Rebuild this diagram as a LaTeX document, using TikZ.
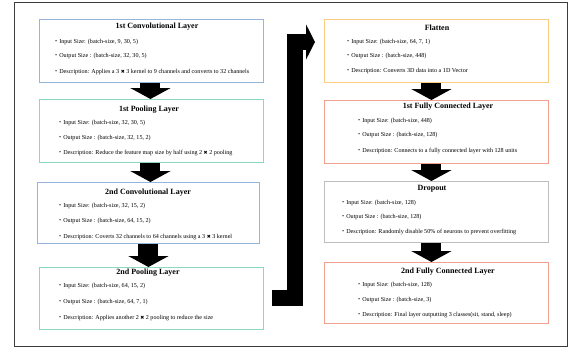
\documentclass[tikz,border=0pt]{standalone}
\usepackage{fontspec}
\setmainfont{Liberation Serif}
\newfontfamily\cjk{Noto Sans CJK JP}
\newfontfamily\dejavu{DejaVu Sans}
\usetikzlibrary{arrows.meta}

\definecolor{convblue}{RGB}{150,180,220}
\definecolor{poolgreen}{RGB}{140,215,190}
\definecolor{flatorange}{RGB}{250,205,130}
\definecolor{fcred}{RGB}{240,160,145}
\definecolor{dropgray}{RGB}{190,190,190}
\definecolor{framegray}{RGB}{60,60,60}

\newcommand{\dotitem}{{\cjk ・}}
\newcommand{\xmark}{{\dejavu\fontsize{4.8}{5}\selectfont ✖}}

\tikzset{
  layer/.style={draw=#1, line width=0.9pt, fill=white, anchor=north west, inner sep=0pt},
  ltitle/.style={font=\fontsize{8}{9}\selectfont\bfseries, inner sep=0pt},
  litem/.style={font=\fontsize{6.1}{7}\selectfont, anchor=west, inner sep=0pt},
  downarrow/.style={line width=20pt, -{Triangle[width=40pt,length=11pt]}},
  bigarrow/.style={line width=16pt, line join=miter, -{Triangle[width=35pt,length=9pt]}}
}

\begin{document}
\begin{tikzpicture}[x=1pt, y=-1pt]
\useasboundingbox (0,0) rectangle (577,351);
\fill[white] (0,0) rectangle (577,351);

%outer frame
\draw[framegray, line width=0.8pt] (14,2) rectangle (567,346);

%left column
\node[layer=convblue, minimum width=224pt, minimum height=63pt] (conv1) at (39,19) {};
\node[ltitle] (conv1t) at (157,27) {1st Convolutional Layer};
\node[litem] (conv1a) at (53,42) {\dotitem Input Size: (batch-size, 9, 30, 5)};
\node[litem] (conv1b) at (53,56) {\dotitem Output Size : (batch-size, 32, 30, 5)};
\node[litem] (conv1c) at (53,72) {\dotitem Description: Applies a 3 \xmark\ 3 kernel to 9 channels and converts to 32 channels};

\node[layer=poolgreen, minimum width=224pt, minimum height=63pt] (pool1) at (39,99) {};
\node[ltitle] (pool1t) at (149,110) {1st Pooling Layer};
\node[litem] (pool1a) at (57,123) {\dotitem Input Size: (batch-size, 32, 30, 5)};
\node[litem] (pool1b) at (57,138) {\dotitem Output Size : (batch-size, 32, 15, 2)};
\node[litem] (pool1c) at (57,153) {\dotitem Description: Reduce the feature map size by half using 2 \xmark\ 2 pooling};

\node[layer=convblue, minimum width=222pt, minimum height=61pt] (conv2) at (37,182) {};
\node[ltitle] (conv2t) at (148,193) {2nd Convolutional Layer};
\node[litem] (conv2a) at (57,206) {\dotitem Input Size: (batch-size, 32, 15, 2)};
\node[litem] (conv2b) at (57,221) {\dotitem Output Size : (batch-size, 64, 15, 2)};
\node[litem] (conv2c) at (57,237) {\dotitem Description: Coverts 32 channels to 64 channels using a 3 \xmark\ 3 kernel};

\node[layer=poolgreen, minimum width=224pt, minimum height=62pt] (pool2) at (39,267) {};
\node[ltitle] (pool2t) at (148,273) {2nd Pooling Layer};
\node[litem] (pool2a) at (57,286) {\dotitem Input Size: (batch-size, 64, 15, 2)};
\node[litem] (pool2b) at (57,302) {\dotitem Output Size : (batch-size, 64, 7, 1)};
\node[litem] (pool2c) at (57,318) {\dotitem Description: Applies another 2 \xmark\ 2 pooling to reduce the size};

%right column
\node[layer=flatorange, minimum width=224pt, minimum height=63pt] (flat) at (324,19) {};
\node[ltitle] (flatt) at (437,28) {Flatten};
\node[litem] (flata) at (345,42) {\dotitem Input Size: (batch-size, 64, 7, 1)};
\node[litem] (flatb) at (345,56) {\dotitem Output Size : (batch-size, 448)};
\node[litem] (flatc) at (345,71) {\dotitem Description: Converts 3D data into a 1D Vector};

\node[layer=fcred, minimum width=224pt, minimum height=63pt] (fc1) at (324,100) {};
\node[ltitle] (fc1t) at (448,107) {1st Fully Connected Layer};
\node[litem] (fc1a) at (356,121) {\dotitem Input Size: (batch-size, 448)};
\node[litem] (fc1b) at (356,135) {\dotitem Output Size : (batch-size, 128)};
\node[litem] (fc1c) at (356,151) {\dotitem Description: Connects to a fully connected layer with 128 units};

\node[layer=dropgray, minimum width=224pt, minimum height=61pt] (drop) at (324,181) {};
\node[ltitle] (dropt) at (432,189) {Dropout};
\node[litem] (dropa) at (340,203) {\dotitem Input Size: (batch-size, 128)};
\node[litem] (dropb) at (340,217) {\dotitem Output Size : (batch-size, 128)};
\node[litem] (dropc) at (340,232) {\dotitem Description: Randomly disable 50\% of neurons to prevent overfitting};

\node[layer=fcred, minimum width=224pt, minimum height=61pt] (fc2) at (324,262) {};
\node[ltitle] (fc2t) at (448,272) {2nd Fully Connected Layer};
\node[litem] (fc2a) at (356,285) {\dotitem Input Size: (batch-size, 128)};
\node[litem] (fc2b) at (356,300) {\dotitem Output Size : (batch-size, 3)};
\node[litem] (fc2c) at (356,315) {\dotitem Description: Final layer outputting 3 classes(sit, stand, sleep)};

%arrows
\draw[downarrow] ([xshift=-1pt]conv1.south) -- ([xshift=-1pt]pool1.north);
\draw[downarrow] ([xshift=-1pt]pool1.south) -- ([xshift=-1pt]conv2.north -| pool1.south);
\draw[downarrow] (conv2.south) -- (conv2.south |- pool2.north);
\draw[downarrow] ([xshift=-5pt]flat.south) -- ([xshift=-5pt]fc1.north);
\draw[downarrow] ([xshift=-5pt]fc1.south) -- ([xshift=-5pt]drop.north);
\draw[downarrow] ([xshift=-5pt]drop.south) -- ([xshift=-5pt]fc2.north);

\coordinate (turn) at (294.5,42);
\draw[bigarrow] ([xshift=8pt]pool2.east) -| (turn) -- ([xshift=-9pt]flat.west |- turn);
\end{tikzpicture}
\end{document}
